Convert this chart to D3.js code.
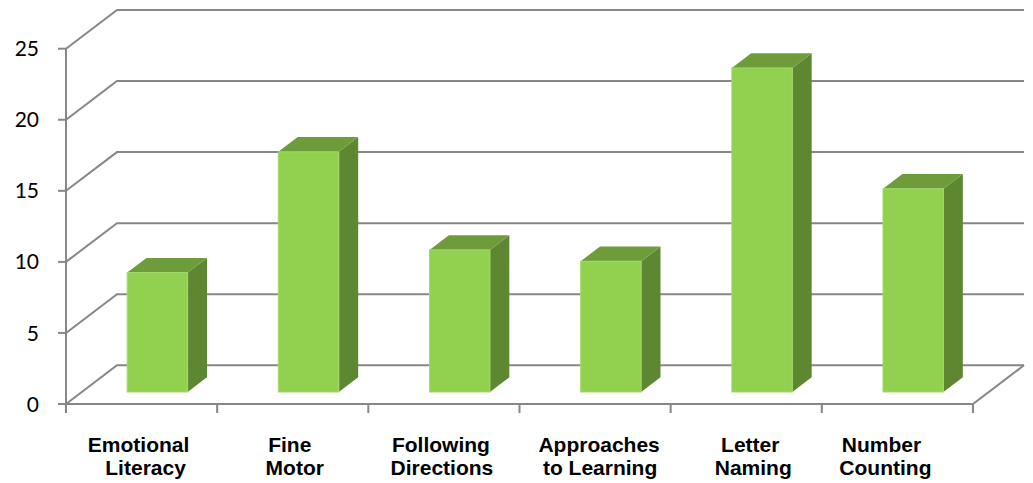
<!DOCTYPE html>
<html>
<head>
<meta charset="utf-8">
<script src="https://cdn.jsdelivr.net/npm/d3@7"></script>
<style>
  html, body { margin: 0; padding: 0; background: #fff; }
  svg { display: block; }
</style>
</head>
<body>
<svg id="chart" width="1033" height="483"></svg>
<script>
// Scores per developmental area
const categories = ["Emotional Literacy", "Fine Motor", "Following Directions", "Approaches to Learning", "Letter Naming", "Number Counting"];
const labelLines = [["Emotional", "Literacy"], ["Fine", "Motor"], ["Following", "Directions"], ["Approaches", "to Learning"], ["Letter", "Naming"], ["Number", "Counting"]];
const values = [8.4, 16.9, 10.0, 9.2, 22.8, 14.3];
const yTicks = [0, 5, 10, 15, 20, 25];

const svg = d3.select("#chart");

// Oblique 3D frame: front plane and back wall offset
const depthX = 51, depthY = 38.7;
const x = d3.scaleBand().domain(categories).range([66, 973]).padding(0);
const y = d3.scaleLinear().domain([0, 25]).range([404, 48.7]);

// Bars sit between these depth fractions of the floor
const f1 = 0.31, f2 = 0.69;
const barFrac = 0.4;

// Horizontal nudges for the wrapped category label lines (first line, second line)
const labelNudge = [[-3, 4], [-3, 2], [-3, -2], [4, 5], [4, 7], [-16, -12]];

const gridColor = "#878787";

// Back wall gridlines with their diagonal returns to the front axis
const grid = svg.append("g").attr("fill", "none").attr("stroke", gridColor).attr("stroke-width", 2);
yTicks.forEach(t => {
  const yy = y(t);
  grid.append("path")
    .attr("d", `M${x.range()[0]},${yy}L${x.range()[0] + depthX},${yy - depthY}L${x.range()[1] + depthX},${yy - depthY}`);
});

// Floor outline
grid.append("path")
  .attr("d", `M${x.range()[0]},${y(0)}L${x.range()[1]},${y(0)}L${x.range()[1] + depthX},${y(0) - depthY}`);

// Value axis line and ticks
grid.append("line")
  .attr("x1", x.range()[0]).attr("x2", x.range()[0])
  .attr("y1", y(25)).attr("y2", y(0));
yTicks.forEach(t => {
  grid.append("line").attr("x1", x.range()[0] - 8).attr("x2", x.range()[0])
    .attr("y1", y(t)).attr("y2", y(t));
});

// Category ticks along the front edge
const catTicks = categories.map(c => x(c)).concat([x.range()[1]]);
catTicks.forEach(cx => {
  grid.append("line").attr("x1", cx).attr("x2", cx)
    .attr("y1", y(0)).attr("y2", y(0) + 9);
});

// Value labels
svg.append("g")
  .selectAll("text")
  .data(yTicks)
  .join("text")
  .attr("x", 39)
  .attr("y", d => y(d))
  .attr("dy", "0.36em")
  .attr("text-anchor", "end")
  .attr("font-family", "Lato, 'Open Sans', sans-serif")
  .attr("font-size", 21)
  .attr("fill", "#000")
  .text(d => d);

// 3D bars
const bars = svg.append("g");
categories.forEach((c, i) => {
  const v = values[i];
  const bw = x.bandwidth() * barFrac;
  const x0 = x(c) + (x.bandwidth() - bw) / 2 + depthX * f1;
  const x1 = x0 + bw;
  const yb = y(0) - depthY * f1;
  const yt = y(v) - depthY * f1;
  const ddx = depthX * (f2 - f1), ddy = depthY * (f2 - f1);
  const g = bars.append("g");
  // side face
  g.append("path")
    .attr("d", `M${x1},${yt}L${x1 + ddx},${yt - ddy}L${x1 + ddx},${yb - ddy}L${x1},${yb}Z`)
    .attr("fill", "#5e8732");
  // top face
  g.append("path")
    .attr("d", `M${x0},${yt}L${x0 + ddx},${yt - ddy}L${x1 + ddx},${yt - ddy}L${x1},${yt}Z`)
    .attr("fill", "#6e9c3b");
  // front face
  g.append("rect")
    .attr("x", x0).attr("y", yt)
    .attr("width", bw).attr("height", yb - yt)
    .attr("fill", "#92d050")
    .attr("stroke", "#a4d96a").attr("stroke-width", 1);
});

// Category labels
const lab = svg.append("g")
  .attr("font-family", "'Liberation Sans', Arial, sans-serif")
  .attr("font-weight", "bold")
  .attr("font-size", 21)
  .attr("fill", "#000")
  .attr("text-anchor", "middle");
categories.forEach((c, i) => {
  const cx = x(c) + x.bandwidth() / 2;
  const t = lab.append("text").attr("y", 452);
  labelLines[i].forEach((ln, k) => {
    t.append("tspan")
      .attr("x", cx + labelNudge[i][k])
      .attr("dy", k === 0 ? 0 : 23)
      .text(ln);
  });
});
</script>
</body>
</html>
